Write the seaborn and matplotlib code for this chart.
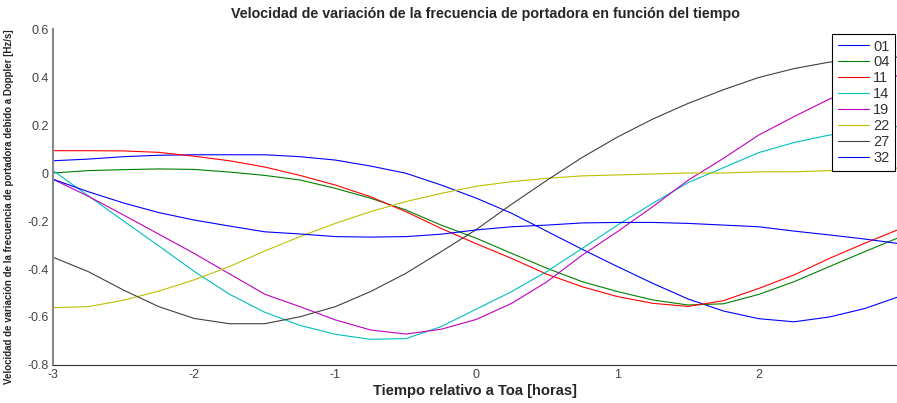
import pandas as pd
import matplotlib
matplotlib.use('Agg')
import matplotlib.pyplot as plt
import seaborn as sns

OUTPUT_FILE = 'out.png'

# --- Time axis (hours relative to Toa) ---
tiempo = [-3.0, -2.75, -2.5, -2.25, -2.0, -1.75, -1.5, -1.25, -1.0, -0.75, -0.5, -0.25,
          0.0, 0.25, 0.5, 0.75, 1.0, 1.25, 1.5, 1.75, 2.0, 2.25, 2.5, 2.75, 2.98]

# --- Doppler rate per satellite [Hz/s] ---
sat_01 = [0.051, 0.058, 0.068, 0.074, 0.076, 0.076, 0.076, 0.068, 0.054, 0.029, -0.001, -0.050,
          -0.105, -0.168, -0.243, -0.318, -0.390, -0.460, -0.525, -0.575, -0.607, -0.620, -0.600, -0.565, -0.518]
sat_04 = [0.000, 0.010, 0.014, 0.017, 0.015, 0.004, -0.010, -0.029, -0.064, -0.105, -0.154, -0.217,
          -0.272, -0.335, -0.397, -0.453, -0.494, -0.529, -0.550, -0.545, -0.506, -0.453, -0.390, -0.328, -0.272]
sat_11 = [0.093, 0.093, 0.092, 0.086, 0.070, 0.051, 0.025, -0.010, -0.050, -0.099, -0.161, -0.231,
          -0.295, -0.356, -0.422, -0.474, -0.515, -0.543, -0.556, -0.532, -0.481, -0.425, -0.356, -0.293, -0.238]
sat_14 = [0.010, -0.095, -0.200, -0.304, -0.410, -0.505, -0.580, -0.635, -0.672, -0.693, -0.690, -0.640,
          -0.567, -0.494, -0.410, -0.314, -0.217, -0.126, -0.040, 0.022, 0.085, 0.127, 0.158, 0.178, 0.193]
sat_19 = [-0.026, -0.097, -0.175, -0.255, -0.335, -0.420, -0.505, -0.557, -0.612, -0.654, -0.671, -0.651,
          -0.610, -0.543, -0.453, -0.342, -0.244, -0.140, -0.030, 0.061, 0.158, 0.235, 0.308, 0.360, 0.405]
sat_22 = [-0.561, -0.557, -0.530, -0.492, -0.445, -0.390, -0.325, -0.265, -0.210, -0.161, -0.119, -0.085,
          -0.055, -0.036, -0.022, -0.012, -0.008, -0.004, 0.000, 0.000, 0.005, 0.005, 0.010, 0.015, 0.020]
sat_27 = [-0.351, -0.411, -0.488, -0.557, -0.606, -0.628, -0.628, -0.599, -0.557, -0.494, -0.418, -0.328,
          -0.235, -0.130, -0.030, 0.065, 0.150, 0.225, 0.290, 0.347, 0.398, 0.435, 0.462, 0.477, 0.483]
sat_32 = [-0.026, -0.078, -0.125, -0.165, -0.196, -0.221, -0.245, -0.254, -0.265, -0.267, -0.265, -0.255,
          -0.237, -0.224, -0.217, -0.208, -0.206, -0.206, -0.210, -0.217, -0.224, -0.242, -0.258, -0.275, -0.293]

satelites = ['01', '04', '11', '14', '19', '22', '27', '32']
series = [sat_01, sat_04, sat_11, sat_14, sat_19, sat_22, sat_27, sat_32]

# MATLAB default colour order (cycles back to blue for the 8th line)
colores = ['#0000ff', '#008000', '#ff0000', '#00bfbf', '#bf00bf', '#bfbf00', '#404040', '#0000ff']

x_ticks = [-3, -2, -1, 0, 1, 2]
y_ticks = [-0.8, -0.6, -0.4, -0.2, 0.0, 0.2, 0.4, 0.6]
y_tick_labels = ['-0.8', '-0.6', '-0.4', '-0.2', '0', '0.2', '0.4', '0.6']


def main():
    # long-form table for seaborn
    rows = []
    for sat, vals in zip(satelites, series):
        for t, v in zip(tiempo, vals):
            rows.append({'tiempo': t, 'doppler': v, 'sat': sat})
    df = pd.DataFrame(rows)

    sns.set_style("white")
    plt.rcParams['font.family'] = ['Liberation Sans', 'DejaVu Sans']

    fig = plt.figure(figsize=(8.97, 4.03), dpi=100)
    ax = fig.add_axes([0.0591, 0.0943, 0.9409, 0.8337])

    sns.lineplot(
        data=df,
        x='tiempo',
        y='doppler',
        hue='sat',
        hue_order=satelites,
        palette=dict(zip(satelites, colores)),
        linewidth=0.8,
        ax=ax,
    )

    ax.set_xlim(-3, 2.98)
    ax.set_ylim(-0.8, 0.6)
    ax.set_xticks(x_ticks)
    ax.set_xticklabels([str(t) for t in x_ticks])
    ax.set_yticks(y_ticks)
    ax.set_yticklabels(y_tick_labels)
    ax.tick_params(direction='in', length=5, width=0.8, colors='#333333',
                   labelcolor='#444444', labelsize=9, pad=3)

    for side in ['top', 'right']:
        ax.spines[side].set_visible(False)
    ax.spines['left'].set_color('#888888')
    ax.spines['left'].set_linewidth(1.5)
    ax.spines['bottom'].set_color('#333333')
    ax.spines['bottom'].set_linewidth(0.8)

    ax.set_xlabel('Tiempo relativo a Toa [horas]', fontsize=10.6, fontweight='bold', labelpad=2)
    ax.set_ylabel('Velocidad de variación de la frecuencia de portadora debido a Doppler [Hz/s]',
                  fontsize=7.0, fontweight='bold')
    ax.yaxis.set_label_coords(-0.046, 0.4717)
    fig.text(0.5407, 0.965, 'Velocidad de variación de la frecuencia de portadora en función del tiempo',
             ha='center', va='center', fontsize=10.3, fontweight='bold')

    legend = ax.legend(loc='upper right', bbox_to_anchor=(0.998, 0.986), borderaxespad=0,
                       fontsize=10.5, handlelength=2.1, labelspacing=0.13, borderpad=0.4,
                       handletextpad=0.3, fancybox=False, framealpha=1, edgecolor='black')
    legend.set_title('')
    legend.get_frame().set_linewidth(0.8)
    for txt in legend.get_texts():
        txt.set_color('#333333')

    plt.savefig(OUTPUT_FILE, dpi=100)


if __name__ == '__main__':
    main()
